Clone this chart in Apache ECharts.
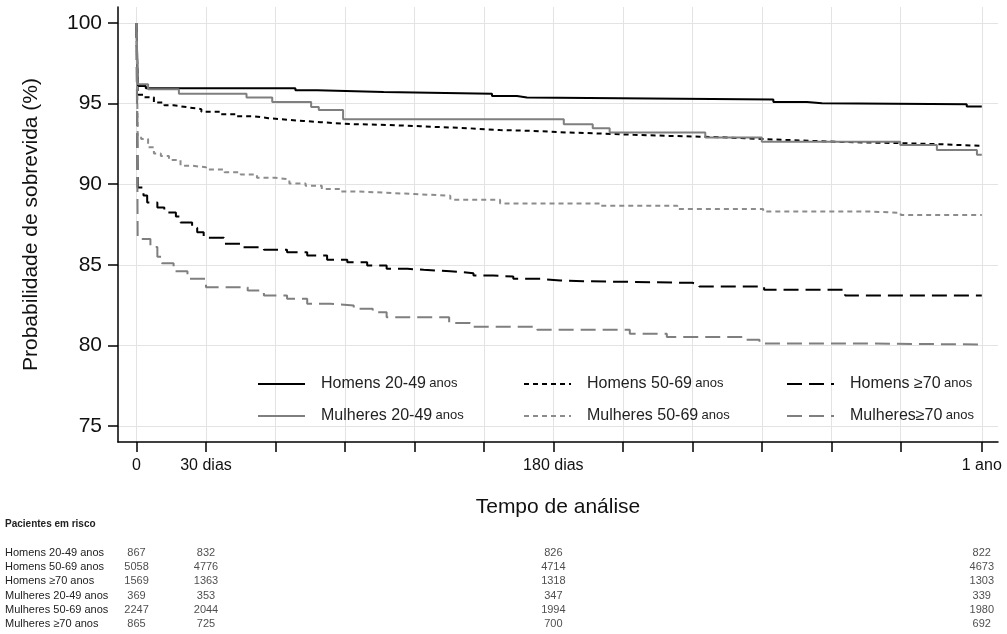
<!DOCTYPE html>
<html><head><meta charset="utf-8">
<script src="https://cdn.jsdelivr.net/npm/echarts@6/dist/echarts.min.js"></script>
<style>html,body{margin:0;padding:0;background:#fff}#c{width:1007px;height:634px}</style>
</head><body><div id="c"></div>
<script>
// ---- data ----
const seriesNames = ['Homens 20-49', 'Homens 50-69', 'Homens \u226570', 'Mulheres 20-49', 'Mulheres 50-69', 'Mulheres\u226570'];
const homens2049 = [[0,100],[0.5,96.1],[4,95.96],[68.6,95.83],[78,95.73],[106.7,95.62],[153.5,95.48],[164.3,95.38],[168.6,95.26],[275,95.11],[289.5,95.03],[296,94.97],[358.5,94.82],[365,94.82]];
const homens5069 = [[0,100],[0.5,95.55],[3,95.4],[7.5,95.07],[12,94.9],[16,94.78],[21.9,94.66],[28,94.5],[36.3,94.35],[43,94.22],[50.6,94.1],[57,94.0],[65,93.93],[72,93.85],[79.4,93.79],[86,93.73],[93.8,93.68],[108,93.6],[122.6,93.56],[128.3,93.48],[142.7,93.36],[157,93.31],[171.5,93.21],[186,93.15],[200,93.07],[214.6,93.0],[230,92.95],[243.4,92.9],[255,92.8],[271,92.69],[291.6,92.62],[305,92.55],[330,92.49],[345.6,92.38],[365,92.38]];
const homens70 = [[0,100],[0.5,89.8],[3,89.3],[4.6,88.87],[9,88.56],[12,88.25],[17,88.0],[19,87.63],[24,87.3],[26.2,87.02],[29,86.67],[37.7,86.3],[46,86.09],[55,85.93],[65,85.78],[73.7,85.57],[82.3,85.31],[91,85.16],[99.6,84.95],[108,84.75],[117,84.69],[124,84.6],[135.5,84.48],[145.5,84.33],[154,84.27],[162.7,84.13],[174.4,84.02],[183,83.98],[193,83.88],[240,83.78],[243,83.65],[271,83.45],[306,83.1],[365,83.1]];
const mulheres2049 = [[0,100],[0.5,96.2],[5,95.9],[18.3,95.62],[47.5,95.38],[58.6,95.11],[75.4,94.8],[78.7,94.61],[89.2,94.04],[184.5,93.72],[197,93.48],[204.3,93.21],[245.6,92.9],[270,92.63],[329.8,92.43],[345.6,92.12],[362.9,91.83],[365,91.83]];
const mulheres5069 = [[0,100],[0.5,93.0],[2,92.8],[5,92.3],[7.5,91.9],[10.5,91.75],[14,91.5],[19,91.15],[24,91.05],[30,90.92],[38,90.75],[45,90.6],[52,90.4],[60,90.3],[66,90.05],[73,89.9],[80,89.7],[88,89.55],[95,89.47],[108,89.39],[120,89.29],[135.5,89.04],[157,88.81],[200,88.67],[233.5,88.46],[270.6,88.3],[318,88.22],[330,88.09],[365,88.09]];
const mulheres70 = [[0,100],[0.5,86.6],[6,86.1],[9,85.5],[11,85.1],[16,84.6],[22,84.13],[30,83.61],[48,83.4],[55,83.1],[65,82.89],[73.7,82.58],[83.7,82.48],[93.8,82.27],[102,82.06],[108,81.75],[135,81.38],[144,81.16],[173,80.97],[213,80.72],[229,80.51],[262,80.35],[269,80.12],[310,80.05],[365,80.05]];

const tickDays = [0,30,60,90,120,150,180,210,240,270,300,330,365];
const labelDays = [0,30,180,365];
const labelTexts = ['0','30 dias','180 dias','1 ano'];
const yTicks = [75,80,85,90,95,100];

const riskRows = ['Homens 20-49 anos','Homens 50-69 anos','Homens \u226570 anos','Mulheres 20-49 anos','Mulheres 50-69 anos','Mulheres \u226570 anos'];
const riskDays = [0,30,180,365];
const riskH2049 = [867,832,826,822];
const riskH5069 = [5058,4776,4714,4673];
const riskH70 = [1569,1363,1318,1303];
const riskM2049 = [369,353,347,339];
const riskM5069 = [2247,2044,1994,1980];
const riskM70 = [865,725,700,692];

// ---- chart ----
const FONT = 'Liberation Sans, Arial, sans-serif';
const curves = [homens2049, homens5069, homens70, mulheres2049, mulheres5069, mulheres70];
const styles = [
  {color:'#000000', type:'solid'},
  {color:'#000000', type:[5,4]},
  {color:'#000000', type:[15,7]},
  {color:'#7f7f7f', type:'solid'},
  {color:'#8c8c8c', type:[5,4]},
  {color:'#7f7f7f', type:[15,7]}
];
const series = curves.map((d, i) => ({
  name: seriesNames[i], type:'line', step:'end', data:d, symbol:'none',
  xAxisIndex:0, yAxisIndex:0,
  lineStyle:{color:styles[i].color, type:styles[i].type, width:2},
  itemStyle:{color:styles[i].color},
  emphasis:{disabled:true}, z: i >= 3 ? 3 : 2
}));
const riskAll = [riskH2049, riskH5069, riskH70, riskM2049, riskM5069, riskM70];
const riskData = [];
riskAll.forEach((row, r) => row.forEach((v, k) => riskData.push([riskDays[k], riskRows[r], v])));
series.push({
  type:'scatter', xAxisIndex:1, yAxisIndex:1, data:riskData,
  symbolSize:1, itemStyle:{color:'transparent'}, silent:true,
  label:{show:true, position:'inside', formatter:p => String(p.value[2]), color:'#222', fontSize:11, fontFamily:FONT}
});

const legendText = {
  formatter: n => '{n|' + n + '} {a|anos}',
  textStyle: {padding:[0,0,0,11], rich:{
    n:{fontSize:16, fontFamily:FONT, color:'#222', lineHeight:20, verticalAlign:'middle'},
    a:{fontSize:13, fontFamily:FONT, color:'#222', lineHeight:20, verticalAlign:'middle', padding:[0,0,1,0]}
  }}
};
function mkLegend(left, names) {
  return Object.assign({
    data:names, orient:'vertical', left:left, top:376, padding:0,
    itemWidth:47, itemHeight:14, itemGap:16, selectedMode:false,
    itemStyle:{opacity:0}, lineStyle:{width:2}
  }, legendText);
}

const chart = echarts.init(document.getElementById('c'), null, {renderer:'canvas'});
chart.setOption({
  animation:false,
  backgroundColor:'#ffffff',
  title:{text:'Pacientes em risco', left:5, top:519, padding:0,
    textStyle:{fontSize:10, fontWeight:'bold', fontFamily:FONT, color:'#222'}},
  grid:[
    {left:118, right:9, top:7, bottom:192, containLabel:false},
    {left:118, right:9, top:546, height:85, containLabel:false}
  ],
  legend:[
    mkLegend(257, [seriesNames[0], seriesNames[3]]),
    mkLegend(523, [seriesNames[1], seriesNames[4]]),
    mkLegend(786, [seriesNames[2], seriesNames[5]])
  ],
  xAxis:[
    {type:'value', gridIndex:0, min:-8, max:372,
     name:'Tempo de an\u00e1lise', nameLocation:'middle', nameGap:55,
     nameTextStyle:{fontSize:21, fontFamily:FONT, color:'#111'},
     axisLine:{show:true, onZero:false, lineStyle:{color:'#000', width:1.5}},
     axisTick:{show:true, length:10, customValues:tickDays, lineStyle:{color:'#000', width:1.5}},
     axisLabel:{customValues:labelDays, margin:16, fontSize:16, fontFamily:FONT, color:'#111',
       formatter: v => { const i = labelDays.indexOf(v); return i >= 0 ? labelTexts[i] : ''; }},
     splitLine:{show:true, lineStyle:{color:'#e3e3e3', width:1}}},
    {type:'value', gridIndex:1, min:-8, max:372, show:false}
  ],
  yAxis:[
    {type:'value', gridIndex:0, min:74, max:101,
     name:'Probabilidade de sobrevida (%)', nameLocation:'middle', nameGap:76,
     nameTextStyle:{fontSize:21, fontFamily:FONT, color:'#111'},
     axisLine:{show:true, onZero:false, lineStyle:{color:'#000', width:1.5}},
     axisTick:{show:true, length:10, customValues:yTicks, lineStyle:{color:'#000', width:1.5}},
     axisLabel:{customValues:yTicks, margin:16, fontSize:21, fontFamily:FONT, color:'#111'},
     splitLine:{show:true, lineStyle:{color:'#e3e3e3', width:1}}},
    {type:'category', gridIndex:1, data:riskRows, inverse:true,
     axisLine:{show:false}, axisTick:{show:false}, splitLine:{show:false},
     axisLabel:{interval:0, align:'left', margin:113, fontSize:11, fontFamily:FONT, color:'#222'}}
  ],
  series:series
});
</script></body></html>
